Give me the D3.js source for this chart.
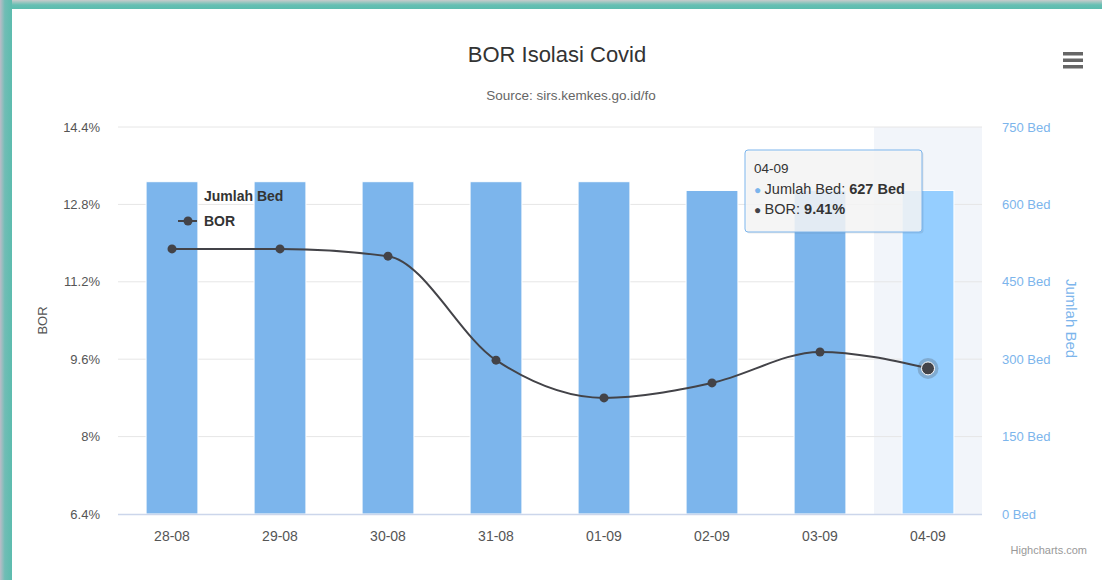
<!DOCTYPE html>
<html>
<head>
<meta charset="utf-8">
<script src="https://cdn.jsdelivr.net/npm/d3@7"></script>
<style>
  html, body { margin: 0; padding: 0; background: #ffffff; }
  svg { display: block; font-family: "Liberation Sans", Arial, sans-serif; }
</style>
</head>
<body>
<div id="chart"></div>
<script>
// dati
var categories = ["28-08", "29-08", "30-08", "31-08", "01-09", "02-09", "03-09", "04-09"];
var jumlahBed = [644, 644, 644, 644, 644, 627, 627, 627];
var bor = [11.88, 11.88, 11.73, 9.58, 8.80, 9.11, 9.75, 9.41];
var borTicks = [6.4, 8, 9.6, 11.2, 12.8, 14.4];
var bedTicks = [0, 150, 300, 450, 600, 750];
var hoverIndex = 7;

var width = 1102;
var height = 580;
// attenzione: "top" e' gia' window.top, quindi nomi diversi
var plotLeft = 118, plotRight = 982, plotTop = 127, plotBottom = 514;

var colBar = "#7cb5ec";
var colBarHover = "#95ceff";
var colLine = "#434348";

var svg = d3.select("#chart")
            .append("svg")
            .attr("width", width)
            .attr("height", height);

// cornice verde acqua (screenshot)
var defs = svg.append("defs");
var gTop = defs.append("linearGradient").attr("id", "gTop")
               .attr("x1", 0).attr("y1", 0).attr("x2", 0).attr("y2", 1);
gTop.append("stop").attr("offset", "0%").attr("stop-color", "#c9cccc");
gTop.append("stop").attr("offset", "55%").attr("stop-color", "#66bfb3");
gTop.append("stop").attr("offset", "100%").attr("stop-color", "#5cbcae");
var gLeft = defs.append("linearGradient").attr("id", "gLeft")
                .attr("x1", 0).attr("y1", 0).attr("x2", 1).attr("y2", 0);
gLeft.append("stop").attr("offset", "0%").attr("stop-color", "#bcbcc8");
gLeft.append("stop").attr("offset", "40%").attr("stop-color", "#70bdb5");
gLeft.append("stop").attr("offset", "100%").attr("stop-color", "#5cbcae");

svg.append("rect").attr("x", 0).attr("y", 0).attr("width", width).attr("height", height).attr("fill", "#ffffff");
svg.append("rect").attr("x", 0).attr("y", 0).attr("width", width).attr("height", 9).attr("fill", "url(#gTop)");
svg.append("rect").attr("x", 0).attr("y", 0).attr("width", 12).attr("height", height).attr("fill", "url(#gLeft)");

// scale
var x = d3.scaleBand().domain(categories).range([plotLeft, plotRight]).padding(0);
var bw = x.bandwidth();
var yL = d3.scaleLinear().domain([6.4, 14.4]).range([plotBottom, plotTop]);
var yR = d3.scaleLinear().domain([0, 750]).range([plotBottom, plotTop]);

// titolo
svg.append("text")
   .attr("x", 557).attr("y", 62)
   .attr("text-anchor", "middle")
   .attr("fill", "#333333")
   .style("font-size", "22px")
   .text("BOR Isolasi Covid");

svg.append("text")
   .attr("x", 571).attr("y", 100)
   .attr("text-anchor", "middle")
   .attr("fill", "#666666")
   .style("font-size", "13.5px")
   .text("Source: sirs.kemkes.go.id/fo");

// menu
[52, 58.5, 65].forEach(function(yy) {
    svg.append("rect")
       .attr("x", 1063).attr("y", yy).attr("width", 20).attr("height", 3.5)
       .attr("fill", "#666666");
});

// banda evidenziata
svg.append("rect")
   .attr("x", x(categories[hoverIndex]))
   .attr("y", plotTop)
   .attr("width", bw)
   .attr("height", plotBottom - plotTop)
   .attr("fill", "rgba(204,214,235,0.25)");

// griglia
svg.append("g")
   .selectAll("line")
   .data(borTicks.slice(1))
   .enter()
   .append("line")
   .attr("x1", plotLeft).attr("x2", plotRight)
   .attr("y1", d => yL(d)).attr("y2", d => yL(d))
   .attr("stroke", "#e6e6e6")
   .attr("stroke-width", 1);

// barre
svg.append("g")
   .selectAll("rect")
   .data(jumlahBed)
   .enter()
   .append("rect")
   .attr("x", (d, i) => x(categories[i]) + bw * 0.26)
   .attr("width", bw * 0.48)
   .attr("y", d => yR(d))
   .attr("height", d => plotBottom - yR(d))
   .attr("fill", (d, i) => i == hoverIndex ? colBarHover : colBar)
   .attr("stroke", "#ffffff")
   .attr("stroke-width", 1);

// linea asse x
svg.append("line")
   .attr("x1", plotLeft).attr("x2", plotRight)
   .attr("y1", plotBottom + 0.5).attr("y2", plotBottom + 0.5)
   .attr("stroke", "#ccd6eb")
   .attr("stroke-width", 1.5);

// etichette asse sinistro
svg.append("g")
   .selectAll("text")
   .data(borTicks)
   .enter()
   .append("text")
   .attr("x", 100)
   .attr("y", d => yL(d))
   .attr("dy", "0.35em")
   .attr("text-anchor", "end")
   .attr("fill", "#555555")
   .style("font-size", "13px")
   .text(d => d3.format("~g")(d) + "%");

svg.append("text")
   .attr("transform", "translate(47," + ((plotTop + plotBottom) / 2) + ") rotate(-90)")
   .attr("text-anchor", "middle")
   .attr("fill", "#555555")
   .style("font-size", "13px")
   .text("BOR");

// etichette asse destro
svg.append("g")
   .selectAll("text")
   .data(bedTicks)
   .enter()
   .append("text")
   .attr("x", 1002)
   .attr("y", d => yR(d))
   .attr("dy", "0.35em")
   .attr("fill", colBar)
   .style("font-size", "13px")
   .text(d => d + " Bed");

svg.append("text")
   .attr("transform", "translate(1066," + ((plotTop + plotBottom) / 2 - 2) + ") rotate(90)")
   .attr("text-anchor", "middle")
   .attr("fill", colBar)
   .style("font-size", "15px")
   .text("Jumlah Bed");

// etichette asse x
svg.append("g")
   .selectAll("text")
   .data(categories)
   .enter()
   .append("text")
   .attr("x", d => x(d) + bw / 2)
   .attr("y", 541)
   .attr("text-anchor", "middle")
   .attr("fill", "#555555")
   .style("font-size", "14px")
   .text(d => d);

// linea BOR
var line = d3.line()
             .x((d, i) => x(categories[i]) + bw / 2)
             .y(d => yL(d))
             .curve(d3.curveMonotoneX);

svg.append("path")
   .datum(bor)
   .attr("d", line)
   .attr("fill", "none")
   .attr("stroke", colLine)
   .attr("stroke-width", 2);

svg.append("g")
   .selectAll("circle")
   .data(bor)
   .enter()
   .filter((d, i) => i != hoverIndex)
   .append("circle")
   .attr("cx", (d, i) => x(categories[i]) + bw / 2)
   .attr("cy", d => yL(d))
   .attr("r", 4.5)
   .attr("fill", colLine);

// punto hover con alone
var hx = x(categories[hoverIndex]) + bw / 2;
var hy = yL(bor[hoverIndex]);
svg.append("circle").attr("cx", hx).attr("cy", hy).attr("r", 10.5)
   .attr("fill", colLine).attr("fill-opacity", 0.25);
svg.append("circle").attr("cx", hx).attr("cy", hy).attr("r", 6.5)
   .attr("fill", colLine).attr("stroke", "#ffffff").attr("stroke-width", 1);

// legenda
var legend = svg.append("g").style("font-size", "14px").style("font-weight", "bold");
legend.append("rect").attr("x", 181).attr("y", 190).attr("width", 12).attr("height", 12)
      .attr("rx", 2).attr("fill", colBar);
legend.append("text").attr("x", 204).attr("y", 201).attr("fill", "#333333").text("Jumlah Bed");
legend.append("line").attr("x1", 178).attr("x2", 197).attr("y1", 221).attr("y2", 221)
      .attr("stroke", colLine).attr("stroke-width", 2);
legend.append("circle").attr("cx", 188).attr("cy", 221).attr("r", 4.5).attr("fill", colLine);
legend.append("text").attr("x", 204).attr("y", 226).attr("fill", "#333333").text("BOR");

// tooltip
var tipW = 177, tipH = 82;
var tipX = hx - 6 - tipW;
var tipY = 150;
var tip = svg.append("g");
tip.append("rect")
   .attr("x", tipX + 1.5).attr("y", tipY + 1.5).attr("width", tipW).attr("height", tipH)
   .attr("rx", 3).attr("fill", "rgba(0,0,0,0.08)");
tip.append("rect")
   .attr("x", tipX).attr("y", tipY).attr("width", tipW).attr("height", tipH)
   .attr("rx", 3)
   .attr("fill", "rgba(247,247,247,0.85)")
   .attr("stroke", colBar)
   .attr("stroke-width", 1);
tip.append("text").attr("x", tipX + 9).attr("y", tipY + 23)
   .attr("fill", "#333333").style("font-size", "13.5px")
   .text(categories[hoverIndex]);

var r1 = tip.append("text").attr("x", tipX + 9).attr("y", tipY + 44)
            .attr("fill", "#333333").style("font-size", "14.5px");
r1.append("tspan").attr("fill", colBar).style("font-size", "12px").text("\u25CF ");
r1.append("tspan").text("Jumlah Bed: ");
r1.append("tspan").style("font-weight", "bold").text(jumlahBed[hoverIndex] + " Bed");

var r2 = tip.append("text").attr("x", tipX + 9).attr("y", tipY + 64)
            .attr("fill", "#333333").style("font-size", "14.5px");
r2.append("tspan").attr("fill", colLine).style("font-size", "12px").text("\u25CF ");
r2.append("tspan").text("BOR: ");
r2.append("tspan").style("font-weight", "bold").text(bor[hoverIndex] + "%");

// credito
svg.append("text")
   .attr("x", 1087).attr("y", 554)
   .attr("text-anchor", "end")
   .attr("fill", "#999999")
   .style("font-size", "11px")
   .text("Highcharts.com");
</script>
</body>
</html>
